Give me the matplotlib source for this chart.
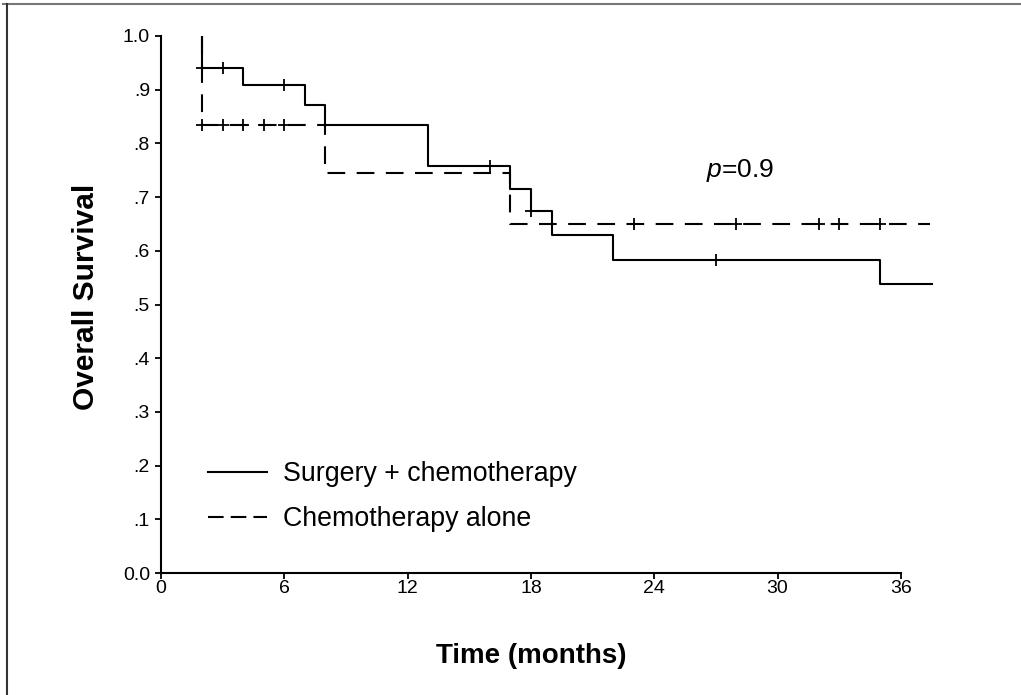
import numpy as np
import matplotlib
matplotlib.use("Agg")
import matplotlib.pyplot as plt
from matplotlib.lines import Line2D

plt.rcParams["font.family"] = ["Liberation Sans", "DejaVu Sans"]
plt.rcParams["mathtext.fontset"] = "custom"
plt.rcParams["mathtext.it"] = "Liberation Sans:italic"
plt.rcParams["mathtext.rm"] = "Liberation Sans"

# Kaplan-Meier data
surg_start = 2
surg_times = [2, 4, 7, 8, 13, 17, 18, 19, 22, 35]
surg_surv = [0.941, 0.909, 0.872, 0.834, 0.758, 0.716, 0.674, 0.629, 0.583, 0.538]
surg_end = 37.5
surg_censor = [2, 3, 6, 16, 18, 27]

chemo_start = 2
chemo_times = [2, 8, 17]
chemo_surv = [0.834, 0.744, 0.650]
chemo_end = 37.4
chemo_censor = [2, 3, 4, 5, 6, 23, 28, 32, 33, 35]

x_ticks = [0, 6, 12, 18, 24, 30, 36]
y_ticks = [0.0, 0.1, 0.2, 0.3, 0.4, 0.5, 0.6, 0.7, 0.8, 0.9, 1.0]
y_tick_labels = ["0.0", ".1", ".2", ".3", ".4", ".5", ".6", ".7", ".8", ".9", "1.0"]


def km_path(start, times, surv, end):
    xs = [start] + list(times) + [end]
    ys = [1.0] + list(surv) + [surv[-1]]
    return xs, ys


def surv_at(t, times, surv):
    val = 1.0
    for ti, si in zip(times, surv):
        if ti <= t:
            val = si
    return val


fig = plt.figure(figsize=(10.21, 6.95), dpi=100)
ax = fig.add_axes([161 / 1021, 1 - 573 / 695, 781 / 1021, 537 / 695])

lw = 1.5
sx, sy = km_path(surg_start, surg_times, surg_surv, surg_end)
cx, cy = km_path(chemo_start, chemo_times, chemo_surv, chemo_end)
ax.step(sx, sy, where="post", color="black", lw=lw, label="Surgery + chemotherapy")
ax.step(cx, cy, where="post", color="black", lw=lw, dashes=(8.5, 5.5),
        label="Chemotherapy alone")

ax.plot(surg_censor, [surv_at(t, surg_times, surg_surv) for t in surg_censor],
        ls="none", marker="+", ms=8, mew=1.3, color="black")
ax.plot(chemo_censor, [surv_at(t, chemo_times, chemo_surv) for t in chemo_censor],
        ls="none", marker="+", ms=8, mew=1.3, color="black")

ax.set_xlim(0, 38)
ax.set_ylim(0, 1.0)
ax.spines["top"].set_visible(False)
ax.spines["right"].set_visible(False)
ax.spines["left"].set_linewidth(1.5)
ax.spines["bottom"].set_linewidth(1.5)
ax.spines["bottom"].set_bounds(0, 36)
ax.set_xticks(x_ticks)
ax.set_yticks(y_ticks)
ax.set_yticklabels(y_tick_labels)
ax.tick_params(direction="out", length=4, width=1.3, labelsize=14)
ax.tick_params(axis="x", pad=1)
ax.tick_params(axis="y", pad=4)

ax.set_xlabel("Time (months)", fontsize=20, fontweight="bold")
ax.xaxis.set_label_coords(18 / 38, -0.13)
ax.set_ylabel("Overall Survival", fontsize=21.5, fontweight="bold")
ax.yaxis.set_label_coords(-0.078, 0.514)

ax.text(26.5, 0.737, r"$p$=0.9", fontsize=19, va="baseline")

leg = ax.legend(loc="lower left", bbox_to_anchor=(0.06, 0.076), frameon=False,
                fontsize=19.3, handlelength=2.2, handletextpad=0.6, labelspacing=0.72,
                borderpad=0, borderaxespad=0)
leg.get_lines()[1].set_dashes((7.5, 3.4))

# frame lines at the top and left of the picture
fig.add_artist(Line2D([3 / 1021, 1], [1 - 4 / 695, 1 - 4 / 695], color="#777777", lw=1.5))
fig.add_artist(Line2D([7 / 1021, 7 / 1021], [0, 1 - 4 / 695], color="#333333", lw=1.5))

fig.savefig("out.png", dpi=100)
